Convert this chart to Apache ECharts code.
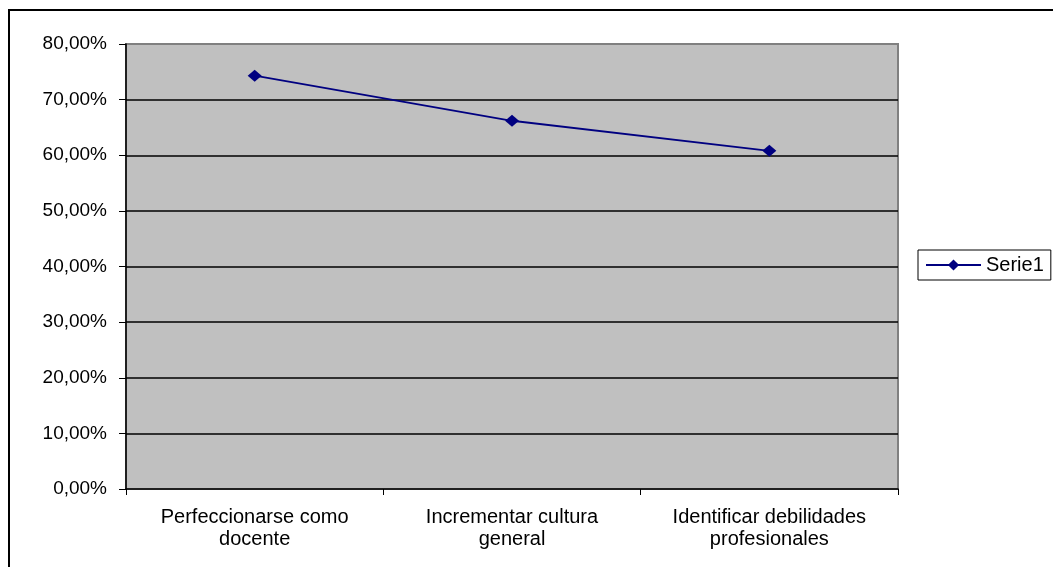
<!DOCTYPE html>
<html>
<head>
<meta charset="utf-8">
<style>
  html, body { margin: 0; padding: 0; background: #fff; }
  #chart { width: 1053px; height: 567px; }
</style>
<script src="https://cdn.jsdelivr.net/npm/echarts@6/dist/echarts.min.js"></script>
</head>
<body>
<div id="chart"></div>
<script>
// Motivos y porcentaje de respuestas
const categories = [
  'Perfeccionarse como\ndocente',
  'Incrementar cultura\ngeneral',
  'Identificar debilidades\nprofesionales'
];
const serie1 = [74.3, 66.2, 60.8];
const seriesName = 'Serie1';

const FONT = '"Liberation Sans", Arial, sans-serif';

const chart = echarts.init(document.getElementById('chart'), null, { renderer: 'canvas' });

chart.setOption({
  animation: false,
  backgroundColor: '#ffffff',
  textStyle: { fontFamily: FONT },
  graphic: [{
    type: 'rect',
    shape: { x: 9, y: 10, width: 1200, height: 700 },
    style: { fill: 'none', stroke: '#000', lineWidth: 2 },
    silent: true,
    z: 100
  }],
  grid: {
    left: 126, right: 155, top: 44, bottom: 78,
    show: true,
    backgroundColor: '#c0c0c0',
    borderColor: '#808080',
    borderWidth: 2
  },
  legend: {
    left: 918, top: 250,
    orient: 'vertical',
    data: [seriesName],
    itemWidth: 55, itemHeight: 14,
    padding: [5, 7, 5, 7],
    borderColor: '#000', borderWidth: 1,
    backgroundColor: '#fff',
    textStyle: { fontFamily: FONT, fontSize: 20, color: '#000' }
  },
  xAxis: {
    type: 'category',
    data: categories,
    boundaryGap: true,
    axisLine: { lineStyle: { color: '#000', width: 1.5 } },
    axisTick: { show: true, length: 6, lineStyle: { color: '#000' } },
    axisLabel: {
      color: '#000', fontFamily: FONT, fontSize: 20,
      lineHeight: 22, margin: 17, interval: 0
    },
    splitLine: { show: false }
  },
  yAxis: {
    type: 'value',
    min: 0, max: 80, interval: 10,
    axisLine: { show: true, lineStyle: { color: '#000', width: 1.5 } },
    axisTick: { show: true, length: 7, lineStyle: { color: '#000' } },
    axisLabel: {
      color: '#000', fontFamily: FONT, fontSize: 19, margin: 19,
      formatter: v => v.toFixed(2).replace('.', ',') + '%'
    },
    splitLine: {
      show: true, showMinLine: false, showMaxLine: false,
      lineStyle: { color: '#000', width: 1.5 }
    }
  },
  series: [{
    name: seriesName,
    type: 'line',
    data: serie1,
    symbol: 'diamond',
    symbolSize: [14, 12],
    lineStyle: { color: '#000080', width: 1.8 },
    itemStyle: { color: '#000080' },
    z: 10
  }]
});
</script>
</body>
</html>
